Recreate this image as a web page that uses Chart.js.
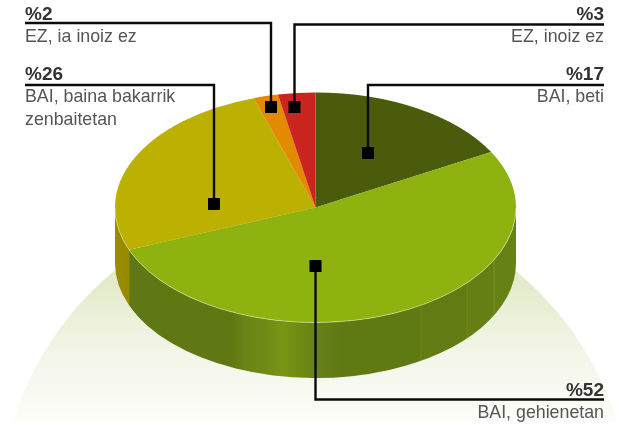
<!DOCTYPE html>
<html>
<head>
<meta charset="utf-8">
<style>
  html, body { margin: 0; padding: 0; background: #fff; }
  canvas { display: block; }
</style>
<script src="https://cdn.jsdelivr.net/npm/chart.js@4/dist/chart.umd.min.js"></script>
</head>
<body>
<canvas id="pie_chart" width="619" height="425"></canvas>
<script>
const categories = [
  "BAI, beti",
  "BAI, gehienetan",
  "BAI, baina bakarrik|zenbaitetan",
  "EZ, ia inoiz ez",
  "EZ, inoiz ez",
];
const values = [17, 52, 26, 2, 3];
const colors = ["#4a5b0b", "#8eb310", "#bcb100", "#e28a00", "#cb2520"];

// side wall colour per slice, as [x, colour] gradient stops
const wallColors = [
  [[0, "#3a4808"]],
  [
    [130, "#5f7813"], [232, "#5f7813"], [246, "#6a8414"], [266, "#6f8b14"],
    [282, "#789614"], [298, "#708c14"], [318, "#66801a"], [340, "#5f7913"],
    [420, "#5f7913"], [421, "#6a8320"], [422, "#627c13"], [466, "#627c13"],
    [467, "#708a22"], [468, "#657f14"], [493, "#657f14"], [494, "#748e28"],
    [495, "#678214"], [516, "#678214"],
  ],
  [[115, "#9a8c00"], [130, "#978a00"]],
  [[0, "#b06c00"]],
  [[0, "#9e1d18"]],
];

// pie geometry on the page
const squash = 115 / 200.5;
const depth = 55.5;

// one leader per slice: side of the text, text anchor, elbow and square
const leaders = [
  { side: "right", x: 604, top: 80, lineY: 85, elbowX: 368, markY: 153 },
  { side: "right", x: 604, top: 396, lineY: 399.5, elbowX: 315.5, markY: 266 },
  { side: "left", x: 25, top: 80, lineY: 85, elbowX: 214, markY: 204 },
  { side: "left", x: 25, top: 20, lineY: 23, elbowX: 271, markY: 107 },
  { side: "right", x: 604, top: 20, lineY: 24.5, elbowX: 294.5, markY: 107 },
];

const hillPlugin = {
  id: "hill",
  beforeDraw(chart) {
    const ctx = chart.ctx;
    ctx.save();
    ctx.fillStyle = "#fff";
    ctx.fillRect(0, 0, chart.width, chart.height);
    ctx.beginPath();
    ctx.rect(0, 0, chart.width, 423);
    ctx.clip();
    const grad = ctx.createLinearGradient(0, 240, 0, 423);
    grad.addColorStop(0, "#dbe5b8");
    grad.addColorStop(0.2, "#e2eac8");
    grad.addColorStop(0.6, "#f2f5e6");
    grad.addColorStop(1, "#fdfdfb");
    ctx.fillStyle = grad;
    ctx.beginPath();
    ctx.arc(315, 515, 316, 0, Math.PI * 2);
    ctx.fill();
    ctx.restore();
  },
};

// squashes the round pie into an ellipse and puts the wall under it
const tiltPlugin = {
  id: "tilt",
  beforeDatasetsDraw(chart) {
    const ctx = chart.ctx;
    const arcs = chart.getDatasetMeta(0).data;
    const cx = arcs[0].x;
    const cy = arcs[0].y;
    const rx = arcs[0].outerRadius;
    const ry = rx * squash;

    ctx.save();
    for (let i = 0; i < arcs.length; i++) {
      let from = Math.max(arcs[i].startAngle, 0);
      let to = Math.min(arcs[i].endAngle, Math.PI);
      if (to <= from) continue;
      let stops = wallColors[i];
      let grad = ctx.createLinearGradient(115, 0, 516, 0);
      for (let stop of stops) {
        grad.addColorStop(Math.min(Math.max((stop[0] - 115) / 401, 0), 1), stop[1]);
      }
      ctx.fillStyle = grad;
      ctx.beginPath();
      ctx.ellipse(cx, cy, rx, ry, 0, from, to);
      ctx.ellipse(cx, cy + depth, rx, ry, 0, to, from, true);
      ctx.closePath();
      ctx.fill();
    }
    ctx.restore();

    ctx.save();
    ctx.translate(0, cy);
    ctx.scale(1, squash);
    ctx.translate(0, -cy);
  },
  afterDatasetsDraw(chart) {
    const ctx = chart.ctx;
    ctx.restore();

    const arc = chart.getDatasetMeta(0).data[0];
    ctx.save();
    ctx.strokeStyle = "rgba(225,238,180,0.55)";
    ctx.lineWidth = 1;
    ctx.beginPath();
    ctx.ellipse(arc.x, arc.y, arc.outerRadius, arc.outerRadius * squash, 0, 0, Math.PI);
    ctx.stroke();
    ctx.restore();
  },
};

const leaderPlugin = {
  id: "leaders",
  afterDraw(chart) {
    const ctx = chart.ctx;
    ctx.save();
    for (let i = 0; i < leaders.length; i++) {
      let l = leaders[i];

      ctx.strokeStyle = "#0a0a0a";
      ctx.lineWidth = 2.4;
      ctx.lineJoin = "miter";
      ctx.beginPath();
      ctx.moveTo(l.x, l.lineY);
      ctx.lineTo(l.elbowX, l.lineY);
      ctx.lineTo(l.elbowX, l.markY);
      ctx.stroke();
      ctx.fillStyle = "#000";
      ctx.fillRect(l.elbowX - 6, l.markY - 6, 12, 12);

      ctx.textAlign = l.side;
      ctx.textBaseline = "alphabetic";
      ctx.fillStyle = "#333";
      ctx.font = "bold 19px 'Liberation Sans'";
      ctx.fillText("%" + values[i], l.x, l.top);

      ctx.fillStyle = "#555";
      ctx.font = "17.8px 'Liberation Sans'";
      let rows = categories[i].split("|");
      for (let r = 0; r < rows.length; r++) {
        ctx.fillText(rows[r], l.x, l.top + 22 + r * 23);
      }
    }
    ctx.restore();
  },
};

new Chart(document.getElementById("pie_chart").getContext("2d"), {
  type: "pie",
  data: {
    labels: categories,
    datasets: [
      {
        data: values,
        backgroundColor: colors,
        borderWidth: 0,
        radius: 200.5,
      },
    ],
  },
  options: {
    responsive: false,
    animation: false,
    events: [],
    layout: { padding: { left: 12, bottom: 10 } },
    plugins: {
      legend: { display: false },
      tooltip: { enabled: false },
    },
  },
  plugins: [hillPlugin, tiltPlugin, leaderPlugin],
});
</script>
</body>
</html>
